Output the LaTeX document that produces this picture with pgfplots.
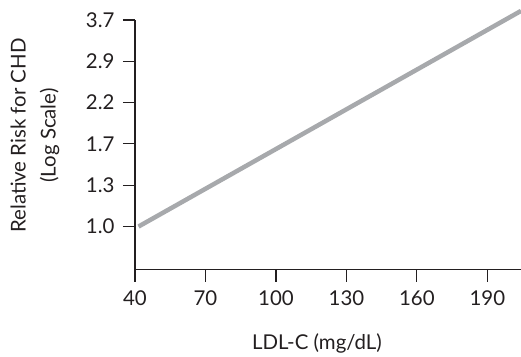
\documentclass[border=0pt]{standalone}
\usepackage{pgfplots}
\pgfplotsset{compat=1.18}
\usepackage{fontspec}
\setmainfont{Lato}
\definecolor{linegray}{HTML}{A7A9AC}
\definecolor{axisk}{HTML}{231F20}
\begin{document}
\begin{tikzpicture}
\useasboundingbox (-135bp,-87bp) rectangle (386bp,269.5bp);
\begin{axis}[
  at={(0,0)}, anchor=south west,
  scale only axis,
  width=386bp, height=249.5bp,
  xmin=40, xmax=204.3,
  ymin=-1.04, ymax=5,
  axis x line*=bottom, axis y line*=left,
  axis line style={axisk, line width=1.1bp},
  tick style={axisk, line width=1.1bp},
  tick align=outside,
  major tick length=12bp,
  xtick={40,70,100,130,160,190},
  ytick={0,1,2,3,4,5},
  yticklabels={1.0,1.3,1.7,2.2,2.9,3.7},
  ticklabel style={font=\fontsize{20.5}{22}\selectfont, text=axisk},
  xticklabel style={yshift=-6bp},
  yticklabel style={xshift=-5bp},
  /pgf/number format/assume math mode=true,
  clip=false,
  xlabel={LDL-C (mg/dL)},
  xlabel style={at={(axis description cs:0.4715,-0.2966)}, anchor=center, font=\fontsize{20.5}{22}\selectfont, text=axisk},
  ylabel={Relative Risk for CHD\\(Log Scale)},
  ylabel style={at={(axis description cs:-0.259,0.537)}, anchor=center, align=center, font=\fontsize{20.5}{30}\selectfont, text=axisk},
]
\addplot[linegray, line width=4.5bp, line cap=butt] coordinates {(41.5,0) (204.3,5.22)};
\end{axis}
\end{tikzpicture}
\end{document}
